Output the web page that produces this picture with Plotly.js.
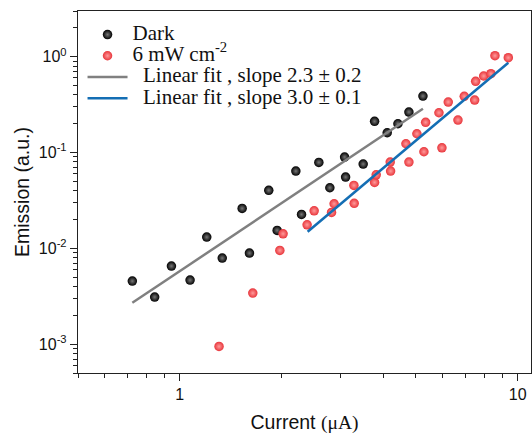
<!DOCTYPE html>
<html>
<head>
<meta charset="utf-8">
<script src="https://cdn.plot.ly/plotly-3.0.1.min.js"></script>
<style>
  html, body { margin: 0; padding: 0; background: #fff; }
  #chart { width: 532px; height: 439px; }
</style>
</head>
<body>
<div id="chart"></div>
<script>
// ---- data ----
const darkX = [0.724, 0.843, 0.945, 1.073, 1.202, 1.336, 1.530, 1.608, 1.834, 1.942, 2.206, 2.293, 2.580, 2.781, 3.075, 3.096, 3.490, 3.772, 4.111, 4.422, 4.766, 5.244];
const darkY = [0.00455, 0.00310, 0.00653, 0.00466, 0.0131, 0.00791, 0.0261, 0.00892, 0.0403, 0.0154, 0.0640, 0.0226, 0.0789, 0.0429, 0.0897, 0.0554, 0.0758, 0.2116, 0.1609, 0.1997, 0.2647, 0.3887];

const lightX = [1.307, 1.645, 1.978, 2.022, 2.382, 2.499, 2.813, 2.863, 3.276, 3.283, 3.772, 3.814, 4.196, 4.207, 4.670, 4.766, 5.032, 5.279, 5.341, 5.848, 5.968, 6.231, 6.657, 6.949, 7.460, 7.510, 7.932, 8.334, 8.566, 9.380];
const lightY = [0.000946, 0.00341, 0.00952, 0.01419, 0.01762, 0.02466, 0.0237, 0.0292, 0.0454, 0.0295, 0.0488, 0.0586, 0.0795, 0.0640, 0.1235, 0.0795, 0.157, 0.1019, 0.2065, 0.2602, 0.1121, 0.3365, 0.2183, 0.386, 0.353, 0.5535, 0.629, 0.6645, 1.024, 0.976];

const darkFitX = [0.724, 5.244];
const darkFitY = [0.0027, 0.286];
const lightFitX = [2.39, 9.38];
const lightFitY = [0.0149, 0.866];

const seriesNames = ['Dark', '6 mW cm<sup>-2</sup>', 'Linear fit , slope 2.3 ± 0.2', 'Linear fit , slope 3.0 ± 0.1'];

const yTickVals = [0.001, 0.01, 0.1, 1];
const yTickText = ['10<sup>-3</sup>', '10<sup>-2</sup>', '10<sup>-1</sup>', '10<sup>0</sup>'];
const xTickVals = [1, 10];
const xTickText = ['1', '10'];

// minor tick positions (axis decoration)
const xMinor = [];
[0.1, 1].forEach(d => { for (let k = 2; k <= 9; k++) xMinor.push(k * d); });
const yMinor = [];
[0.0001, 0.001, 0.01, 0.1, 1].forEach(d => { for (let k = 2; k <= 9; k++) yMinor.push(k * d); });

const sansFont = 'Liberation Sans, Arial, sans-serif';
const serifFont = 'Liberation Serif, Times New Roman, serif';

// legend text drawn larger than the row height the legend reserves
const big = (s, pad) => '<span style="font-size:21px">' + (pad ? '\u00a0\u00a0' : '') + s + '</span>';

const traces = [
  { x: darkX, y: darkY, name: big(seriesNames[0], false), type: 'scatter', mode: 'markers',
    marker: { size: 9.5, color: '#000000', line: { width: 0 }, gradient: { type: 'radial', color: '#777777' } } },
  { x: lightX, y: lightY, name: big(seriesNames[1], false), type: 'scatter', mode: 'markers',
    marker: { size: 9.5, color: '#e8353b', line: { width: 0 }, gradient: { type: 'radial', color: '#ff9a9a' } } },
  { x: darkFitX, y: darkFitY, name: big(seriesNames[2], true), type: 'scatter', mode: 'lines',
    line: { color: '#808080', width: 2.5 } },
  { x: lightFitX, y: lightFitY, name: big(seriesNames[3], true), type: 'scatter', mode: 'lines',
    line: { color: '#146eb4', width: 2.5 } }
];

const axisCommon = {
  type: 'log', showgrid: false, zeroline: false,
  showline: true, linecolor: '#222', linewidth: 1.2, mirror: true,
  ticks: 'outside', ticklen: 7, tickwidth: 1.2, tickcolor: '#222',
  tickfont: { family: sansFont, size: 16, color: '#111' },
  tickmode: 'array'
};

const layout = {
  width: 532, height: 439,
  margin: { l: 78, r: 1, t: 11, b: 66 },
  paper_bgcolor: '#ffffff', plot_bgcolor: '#ffffff',
  showlegend: true,
  legend: {
    x: 0.01, y: 0.978, xanchor: 'left', yanchor: 'top',
    bgcolor: 'rgba(0,0,0,0)', borderwidth: 0,
    font: { family: serifFont, size: 14, color: '#111' },
    tracegroupgap: 0, itemwidth: 40
  },
  xaxis: Object.assign({}, axisCommon, {
    range: [Math.log10(0.5), Math.log10(10.95)],
    tickvals: xTickVals, ticktext: xTickText,
    minor: { tickmode: 'array', tickvals: xMinor, ticklen: 4, tickwidth: 1, tickcolor: '#222', ticks: 'outside' },
    title: { text: 'Current <span style="font-family:Liberation Serif">(μA)</span>', font: { family: sansFont, size: 19.5, color: '#111' }, standoff: 13 }
  }),
  yaxis: Object.assign({}, axisCommon, {
    range: [Math.log10(0.0005), Math.log10(3.0)],
    tickvals: yTickVals, ticktext: yTickText,
    minor: { tickmode: 'array', tickvals: yMinor, ticklen: 4, tickwidth: 1, tickcolor: '#222', ticks: 'outside' },
    title: { text: 'Emission (a.u.)', font: { family: sansFont, size: 19.5, color: '#111' }, standoff: 4 }
  })
};

Plotly.newPlot('chart', traces, layout, { displayModeBar: false, staticPlot: true });
</script>
</body>
</html>
